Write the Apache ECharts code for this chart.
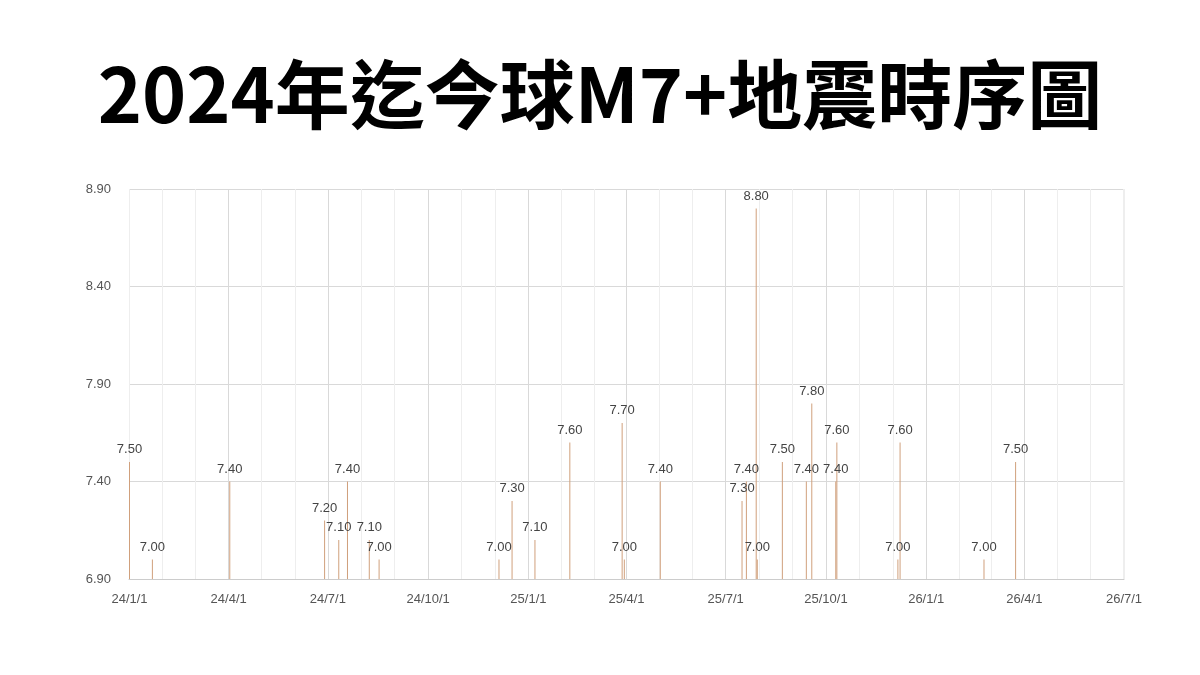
<!DOCTYPE html>
<html><head><meta charset="utf-8">
<script src="https://cdn.jsdelivr.net/npm/echarts@6/dist/echarts.min.js"></script>
<style>html,body{margin:0;padding:0;background:#fff}#c{width:1200px;height:675px}</style>
</head><body><div id="c"></div>
<script>
const dates = ['2024-01-01','2024-01-22','2024-04-02','2024-06-28','2024-07-11','2024-07-19','2024-08-08','2024-08-17','2024-12-05','2024-12-17','2025-01-07','2025-02-08','2025-03-28','2025-03-30','2025-05-02','2025-07-16','2025-07-20','2025-07-29','2025-07-30','2025-08-22','2025-09-13','2025-09-18','2025-10-10','2025-10-11','2025-12-06','2025-12-08','2026-02-23','2026-03-24'];
const magnitudes = [7.5,7.0,7.4,7.2,7.1,7.4,7.1,7.0,7.0,7.3,7.1,7.6,7.7,7.0,7.4,7.3,7.4,8.8,7.0,7.5,7.4,7.8,7.4,7.6,7.0,7.6,7.0,7.5];
const yTicks = [6.9,7.4,7.9,8.4,8.9];
const titleText = '2024年迄今球M7+地震時序圖';
const DAY = 86400000;
const chart = echarts.init(document.getElementById('c'));
chart.setOption({
  animation:false,
  title:{text:titleText,left:'center',top:52,textStyle:{fontFamily:'Noto Sans CJK TC',fontSize:75,fontWeight:'bold',color:'#000'}},
  grid:{left:129,right:76,top:189,bottom:96},
  xAxis:{type:'time',min:+new Date('2024-01-01T00:00:00'),max:+new Date('2026-07-01T00:00:00'),
    minInterval:88*DAY,maxInterval:93*DAY,
    axisLine:{lineStyle:{color:'#ccc'}},axisTick:{show:false},
    axisLabel:{color:'#555',fontSize:13,margin:14,formatter:function(v){const d=new Date(v);return String(d.getFullYear()).slice(2)+'/'+(d.getMonth()+1)+'/'+d.getDate();},showMaxLabel:true},
    splitLine:{show:true,lineStyle:{color:'#d9d9d9'}},
    minorTick:{show:false,splitNumber:3},minorSplitLine:{show:true,lineStyle:{color:'#eeeeee'}}},
  yAxis:{type:'value',min:6.9,max:8.9,interval:0.5,
    axisLine:{show:false},axisTick:{show:false},
    axisLabel:{color:'#555',fontSize:13,margin:18,formatter:v=>v.toFixed(2)},
    splitLine:{lineStyle:{color:'#d9d9d9'}}},
  series:[{type:'bar',barWidth:1,
    data:dates.map((d,i)=>[+new Date(d+'T00:00:00'),magnitudes[i]]),
    itemStyle:{color:'#d0a07c'},
    label:{show:true,position:'top',distance:6,color:'#444',fontSize:13,formatter:p=>p.value[1].toFixed(2)}}]
});
</script></body></html>
